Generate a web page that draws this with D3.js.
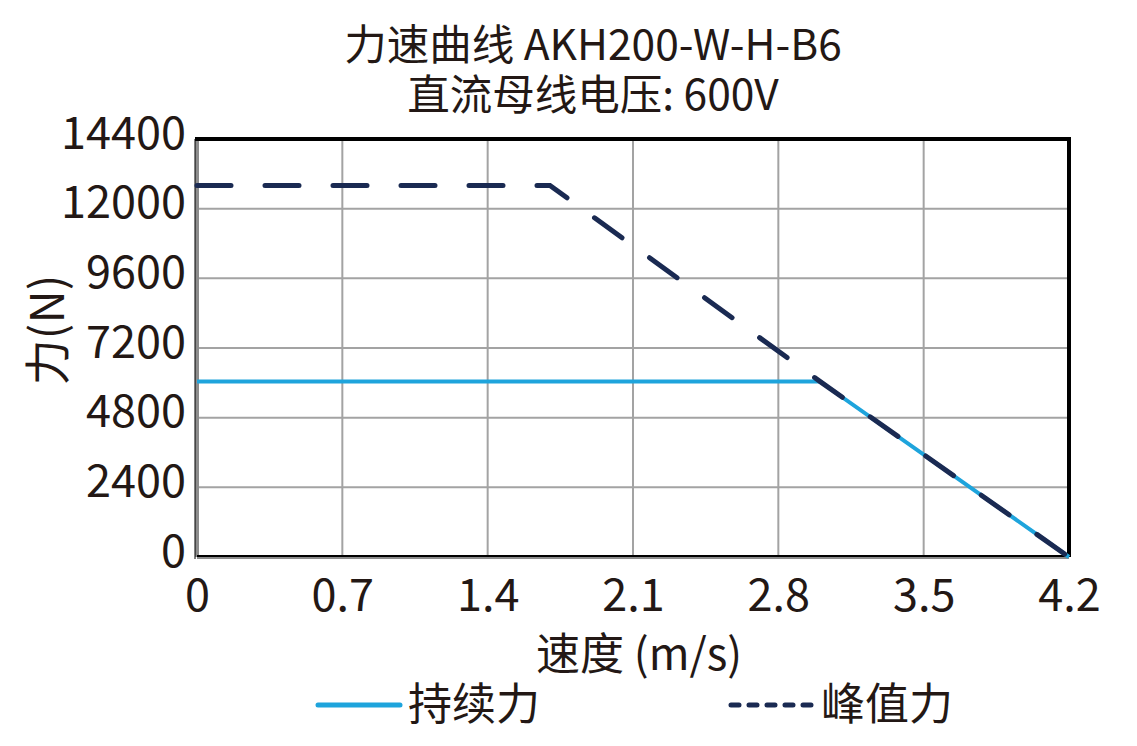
<!DOCTYPE html>
<html>
<head>
<meta charset="utf-8">
<script src="https://cdn.jsdelivr.net/npm/d3@7"></script>
<style>
  body { margin: 0; background: #fff; }
  text { font-family: "Noto Sans CJK SC", "Noto Sans", sans-serif; fill: #231815; }
</style>
</head>
<body>
<div id="chart"></div>
<script>
// values
const xTicks = [0, 0.7, 1.4, 2.1, 2.8, 3.5, 4.2];
const yTicks = [0, 2400, 4800, 7200, 9600, 12000, 14400];
const contSpeed = [0, 3.0, 4.2];
const contForce = [6050, 6050, 0];
const peakSpeed = [0, 1.7, 3.0, 4.2];
const peakForce = [12800, 12800, 6050, 0];
const seriesNames = ["持续力", "峰值力"];

const W = 1137, H = 746;
const margin = {top: 139, right: 68, bottom: 189, left: 197};
const width = W - margin.left - margin.right;
const height = H - margin.top - margin.bottom;

const svg = d3.select("#chart").append("svg")
    .attr("width", W).attr("height", H);

const g = svg.append("g")
    .attr("transform", `translate(${margin.left},${margin.top})`);

const x = d3.scaleLinear().domain([0, 4.2]).range([0, width]);
const y = d3.scaleLinear().domain([0, 14400]).range([height, 0]);

// grid
g.append("g")
    .selectAll("line.vg")
    .data(xTicks.slice(1, -1))
    .enter().append("line")
    .attr("x1", d => x(d)).attr("x2", d => x(d))
    .attr("y1", 0).attr("y2", height)
    .attr("stroke", "#a3a3a3").attr("stroke-width", 2);
g.append("g")
    .selectAll("line.hg")
    .data(yTicks.slice(1, -1))
    .enter().append("line")
    .attr("x1", 0).attr("x2", width)
    .attr("y1", d => y(d)).attr("y2", d => y(d))
    .attr("stroke", "#a3a3a3").attr("stroke-width", 2);

// frame: gray left/bottom, black top/right
g.append("line").attr("x1", 0).attr("x2", 0).attr("y1", 0).attr("y2", height)
    .attr("stroke", "#8c8c8c").attr("stroke-width", 4);
g.append("line").attr("x1", -2).attr("x2", -2).attr("y1", 0).attr("y2", height + 2)
    .attr("stroke", "#000").attr("stroke-width", 1);
g.append("line").attr("x1", 0).attr("x2", width).attr("y1", height).attr("y2", height)
    .attr("stroke", "#8c8c8c").attr("stroke-width", 4);
g.append("line").attr("x1", 0).attr("x2", width).attr("y1", height - 1).attr("y2", height - 1)
    .attr("stroke", "#000").attr("stroke-width", 2);
g.append("line").attr("x1", -2).attr("x2", width + 2).attr("y1", 0).attr("y2", 0)
    .attr("stroke", "#000").attr("stroke-width", 4);
g.append("line").attr("x1", width).attr("x2", width).attr("y1", 0).attr("y2", height)
    .attr("stroke", "#000").attr("stroke-width", 4);

// axes (labels only)
const xAxis = g.append("g")
    .attr("transform", `translate(0,${height})`)
    .call(d3.axisBottom(x).tickValues(xTicks).tickFormat(d => d).tickSize(0).tickPadding(22));
xAxis.select(".domain").remove();
xAxis.selectAll("text").style("font-size", "45px").attr("fill", "#231815");

const yAxis = g.append("g")
    .call(d3.axisLeft(y).tickValues(yTicks).tickFormat(d => d).tickSize(0).tickPadding(11));
yAxis.select(".domain").remove();
yAxis.selectAll("text").style("font-size", "45px").attr("fill", "#231815").attr("dy", "0.2em");

// lines
const contData = contSpeed.map((s, i) => ({s: s, f: contForce[i]}));
const peakData = peakSpeed.map((s, i) => ({s: s, f: peakForce[i]}));
const line = d3.line().x(d => x(d.s)).y(d => y(d.f));

g.append("path")
    .datum(contData)
    .attr("d", line)
    .attr("fill", "none")
    .attr("stroke", "#1ea4dc")
    .attr("stroke-width", 4);
g.append("path")
    .datum(peakData)
    .attr("d", line)
    .attr("fill", "none")
    .attr("stroke", "#1a2a52")
    .attr("stroke-width", 5)
    .attr("stroke-linecap", "round")
    .attr("stroke-dasharray", "34,34");

// titles
svg.append("text").attr("x", 593).attr("y", 60)
    .attr("text-anchor", "middle").style("font-size", "42.5px")
    .text("力速曲线 AKH200-W-H-B6");
svg.append("text").attr("x", 593).attr("y", 110)
    .attr("text-anchor", "middle").style("font-size", "42.5px")
    .text("直流母线电压: 600V");

svg.append("text").attr("x", 639).attr("y", 670)
    .attr("text-anchor", "middle").style("font-size", "44px")
    .text("速度 (m/s)");
svg.append("text")
    .attr("transform", "translate(64,330) rotate(-90)")
    .attr("text-anchor", "middle").style("font-size", "46px")
    .text("力(N)");

// legend
const legend = svg.append("g");
legend.append("line").attr("x1", 318).attr("x2", 400).attr("y1", 705).attr("y2", 705)
    .attr("stroke", "#1ea4dc").attr("stroke-width", 5).attr("stroke-linecap", "round");
legend.append("text").attr("x", 408).attr("y", 720).style("font-size", "44px").text(seriesNames[0]);
legend.append("line").attr("x1", 731).attr("x2", 814).attr("y1", 705).attr("y2", 705)
    .attr("stroke", "#1a2a52").attr("stroke-width", 5).attr("stroke-linecap", "round")
    .attr("stroke-dasharray", "8,10");
legend.append("text").attr("x", 821).attr("y", 720).style("font-size", "44px").text(seriesNames[1]);
</script>
</body>
</html>
